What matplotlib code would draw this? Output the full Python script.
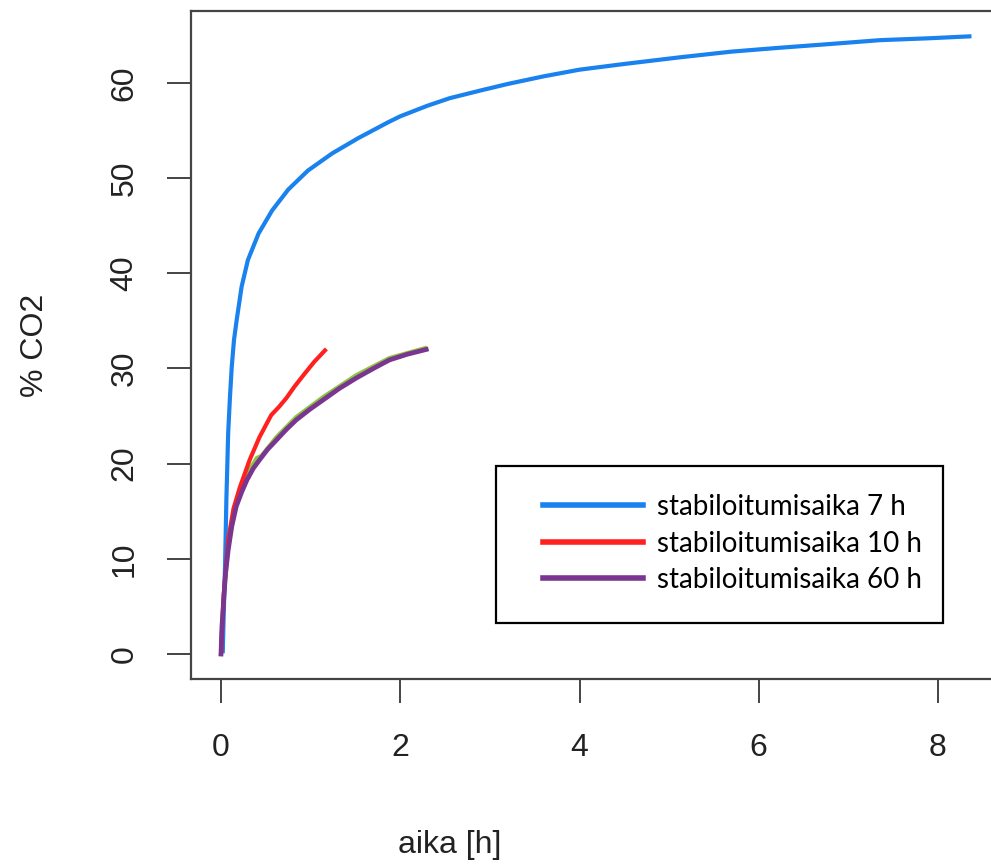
import matplotlib.pyplot as plt
from matplotlib.patches import Rectangle

# CO2 uptake curves for three stabilisation times
t_7h = [0.02, 0.03, 0.045, 0.06, 0.08, 0.10, 0.12, 0.145, 0.175, 0.23, 0.30, 0.42,
        0.57, 0.75, 0.97, 1.24, 1.53, 1.87, 2.0, 2.3, 2.55, 2.89, 3.2, 3.6, 4.0,
        4.5, 5.12, 5.7, 6.23, 6.8, 7.35, 7.9, 8.35]
co2_7h = [0.3, 4.0, 9.2, 16.2, 23.2, 27.0, 30.2, 33.0, 35.1, 38.6, 41.4, 44.2,
          46.6, 48.8, 50.8, 52.6, 54.2, 55.9, 56.5, 57.6, 58.4, 59.2, 59.9, 60.7, 61.4,
          62.0, 62.7, 63.3, 63.7, 64.1, 64.5, 64.7, 64.9]

t_10h = [0.0, 0.03, 0.08, 0.14, 0.21, 0.32, 0.43, 0.56, 0.65, 0.73, 0.82, 0.92, 1.04, 1.16]
co2_10h = [0.0, 6.2, 12.0, 15.3, 17.5, 20.4, 22.8, 25.1, 26.0, 26.9, 28.1, 29.3, 30.7, 31.9]

t_60h = [0.0, 0.01, 0.03, 0.05, 0.08, 0.12, 0.17, 0.23, 0.29, 0.36, 0.43, 0.52, 0.62,
         0.73, 0.84, 0.99, 1.14, 1.32, 1.51, 1.70, 1.88, 2.08, 2.29]
co2_60h = [0.0, 2.8, 5.7, 8.4, 10.9, 13.4, 15.5, 17.0, 18.3, 19.5, 20.4, 21.5, 22.5,
           23.6, 24.6, 25.7, 26.7, 27.9, 29.0, 30.0, 30.9, 31.5, 32.0]

# extra run lying under the 60 h curve
t_extra = [0.0, 0.03, 0.08, 0.17, 0.29, 0.40, 0.45, 0.62, 0.84, 1.14, 1.51, 1.88, 2.30]
co2_extra = [0.0, 6.0, 11.3, 16.0, 18.9, 20.6, 20.8, 22.8, 24.9, 27.0, 29.3, 31.1, 32.2]

labels = ["stabiloitumisaika 7 h", "stabiloitumisaika 10 h", "stabiloitumisaika 60 h"]
colors = ["#1a82ee", "#ff2020", "#7a3590"]

W, H = 991, 865
fig = plt.figure(figsize=(W / 100, H / 100), dpi=100)
x0, x1 = -0.334, 8.68
y0, y1 = -2.6, 67.6
px_x = 717 / 8
px_y = 571 / 60
left = 221 + x0 * px_x
right = 221 + x1 * px_x
bottom = 654 - y0 * px_y
top = 654 - y1 * px_y
ax = fig.add_axes([left / W, 1 - bottom / H, (right - left) / W, (bottom - top) / H])

ax.plot(t_extra, co2_extra, color="#8cc63f", lw=3.0, solid_capstyle="butt")
l1, = ax.plot(t_7h, co2_7h, color=colors[0], lw=3.0)
l2, = ax.plot(t_10h, co2_10h, color=colors[1], lw=3.0)
l3, = ax.plot(t_60h, co2_60h, color=colors[2], lw=3.4)

ax.set_xlim(x0, x1)
ax.set_ylim(y0, y1)
ax.set_xticks([0, 2, 4, 6, 8])
ax.set_yticks([0, 10, 20, 30, 40, 50, 60])
for s in ax.spines.values():
    s.set_color("#444444")
    s.set_linewidth(1.6)
ax.tick_params(length=17, width=1.4, color="#444444", labelsize=23,
               labelcolor="#222222")
ax.tick_params(axis="x", pad=22)
ax.tick_params(axis="y", pad=20)
for lab in ax.get_xticklabels() + ax.get_yticklabels():
    lab.set_family("Liberation Sans")
for lab in ax.get_yticklabels():
    lab.set_rotation(90)
    lab.set_va("center")

fig.text(450 / W, 1 - 845 / H, "aika [h]", ha="center", va="center",
         fontsize=23, family="Liberation Sans", color="#222222")
fig.text(35 / W, 1 - 345 / H, "% CO2", ha="center", va="center", rotation=90,
         fontsize=23, family="Liberation Sans", color="#222222")

# legend box with blank space below the entries
fig.patches.append(Rectangle((496 / W, 1 - 623 / H), (943 - 496) / W, (623 - 466) / H,
                             transform=fig.transFigure, fill=False,
                             edgecolor="black", linewidth=1.6, zorder=5))
leg = fig.legend([l1, l2, l3], labels, loc="upper left",
                 bbox_to_anchor=(543 / W, 1 - 494 / H), frameon=False,
                 prop={"family": "Lato", "size": 20}, handlelength=3.6,
                 handletextpad=0.5, labelspacing=0.38, borderaxespad=0, borderpad=0)
for h in leg.legend_handles:
    h.set_linewidth(4.0)

fig.savefig("out.png", dpi=100)
